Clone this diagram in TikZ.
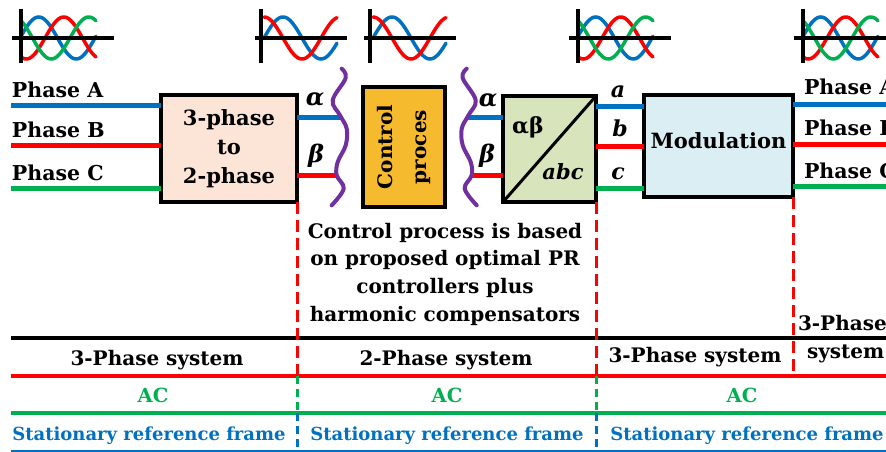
\documentclass[tikz,border=0pt]{standalone}
\usepackage{fontspec}
\setmainfont{DejaVu Serif}
\usetikzlibrary{calc}
\definecolor{cblue}{HTML}{0070C0}
\definecolor{cred}{HTML}{FF0000}
\definecolor{cgreen}{HTML}{00B050}
\definecolor{cpurple}{HTML}{7030A0}
\definecolor{cpeach}{HTML}{FCE4D6}
\definecolor{corange}{HTML}{F5BA2E}
\definecolor{cleaf}{HTML}{D8E4BC}
\definecolor{csky}{HTML}{DAEEF3}
\newcommand{\fs}[2]{\fontsize{#1}{#2}\selectfont}
\newcommand{\squigline}[2]{\draw[squig] plot[smooth,tension=0.6] coordinates {(#1,68.7) ({#1+(#2)*4},78) ({#1+(#2)*(-9)},100.3) ({#1+(#2)*(-1.7)},115.3) ({#1+(#2)*5},128.7) ({#1+(#2)*4},145.3) ({#1+(#2)*(-4)},162) ({#1+(#2)*(-5)},175.3) ({#1+(#2)*2},188.7) ({#1+(#2)*(-10)},205.3)};}
\tikzset{
  txt/.style={inner sep=0pt, outer sep=0pt},
  wire/.style={line width=5pt},
  blockbox/.style={draw=black, line width=4pt, inner sep=0pt, outer sep=0pt, align=center},
  axisline/.style={line width=4pt, black},
  waveline/.style={line width=3.5pt, line cap=round},
  squig/.style={line width=4pt, cpurple, line cap=round},
  reddash/.style={line width=3pt, cred, dash pattern=on 12pt off 6pt},
  greendash/.style={line width=3pt, cgreen, dash pattern=on 8pt off 5pt},
  bluedash/.style={line width=3pt, cblue, dash pattern=on 8pt off 5pt},
  hline/.style={line width=4pt},
  lbl/.style={txt, font=\bfseries\fs{20.5}{24}},
  greek/.style={txt, font=\bfseries\itshape\fs{24}{26}},
  latin/.style={txt, font=\bfseries\itshape\fs{22}{24}},
}
\begin{document}
\begin{tikzpicture}[x=1pt,y=-1pt]
\useasboundingbox (0,0) rectangle (886,452);
\clip (0,0) rectangle (886,452);

% ---- 3-phase wave icons
\foreach \ax in {21,578,803}{
  \draw[waveline,cblue] plot[domain=0:75,samples=60] ({\ax+\x},{38-21*sin(4.8*(\x+1))});
  \draw[waveline,cred] plot[domain=0:75,samples=60] ({\ax+\x},{38-21*sin(4.8*(\x+1)-120)});
  \draw[waveline,cgreen] plot[domain=0:75,samples=60] ({\ax+\x},{38-21*sin(4.8*(\x+1)-240)});
  \draw[axisline] (\ax-9,38) -- (\ax+93,38);
  \draw[axisline] (\ax,9) -- (\ax,63);
}
% ---- 2-phase wave icons
\foreach \ax in {261,370}{
  \draw[waveline,cblue] plot[domain=3:76,samples=60] ({\ax+\x},{38-21*sin(4.7368*(\x-3))});
  \draw[waveline,cred] plot[domain=3:76,samples=60] ({\ax+\x},{38-21*cos(4.7368*(\x-3))});
  \draw[axisline] (\ax-6,38) -- (\ax+86,38);
  \draw[axisline] (\ax,9) -- (\ax,63);
}

% ---- blocks
\node[blockbox, fill=cpeach, minimum width=136pt, minimum height=107pt, font=\bfseries\fs{21}{29}] (b1) at (229,148.5) {3-phase\\to\\2-phase};
\node[blockbox, fill=corange, minimum width=82pt, minimum height=120pt] (b2) at (404,147) {};
\node[txt, rotate=90, align=center, font=\bfseries\fs{20}{34}] (ctl) at (b2.center) {Control\\proces};
\node[blockbox, fill=cleaf, minimum width=93pt, minimum height=106pt] (b3) at (549.5,149) {};
\draw[line width=3pt] (b3.south west) -- (b3.north east);
\node[txt, font=\bfseries\fs{22}{24}] (ab) at (528,127) {αβ};
\node[txt, font=\bfseries\itshape\fs{21}{24}] (abc) at (563,172) {abc};
\node[blockbox, fill=csky, minimum width=149pt, minimum height=102pt] (b4) at (718.5,146) {};
\node[txt, font=\bfseries\fs{21}{24}] (modt) at (718.5,141) {Modulation};

% ---- input phases
\coordinate (inA) at (11,105);
\coordinate (inB) at (11,145);
\coordinate (inC) at (11,188);
\draw[wire,cblue] (inA) -- (inA -| b1.west);
\draw[wire,cred] (inB) -- (inB -| b1.west);
\draw[wire,cgreen] (inC) -- (inC -| b1.west);
\node[lbl, anchor=base west] (pA) at (12,97) {Phase A};
\node[lbl, anchor=base west] (pB) at (12,137) {Phase B};
\node[lbl, anchor=base west] (pC) at (12,180) {Phase C};

% ---- alpha beta
\coordinate (s1a) at (342,117);
\coordinate (s1b) at (337,175);
\coordinate (s2a) at (467,117);
\coordinate (s2b) at (471,175);
\draw[wire,cblue] (b1.east |- s1a) -- (s1a);
\draw[wire,cred] (b1.east |- s1b) -- (s1b);
\draw[wire,cblue] (s2a) -- (s2a -| b3.west);
\draw[wire,cred] (s2b) -- (s2b -| b3.west);
\squigline{341.7}{1}
\squigline{466.7}{-1}
\node[greek] (al1) at (315,100) {α};
\node[greek] (be1) at (316,156) {β};
\node[greek] (al2) at (488,101) {α};
\node[greek] (be2) at (487,156) {β};

% ---- abc
\coordinate (ya) at (0,106);
\coordinate (yb) at (0,146);
\coordinate (yc) at (0,188);
\draw[wire,cblue] (b3.east |- ya) -- (b4.west |- ya);
\draw[wire,cred] (b3.east |- yb) -- (b4.west |- yb);
\draw[wire,cgreen] (b3.east |- yc) -- (b4.west |- yc);
\node[latin, anchor=base] (la) at (618,97) {a};
\node[latin, anchor=base] (lb) at (620,136) {b};
\node[latin, anchor=base] (lc) at (618,179) {c};

% ---- outputs
\coordinate (oA) at (892,104);
\coordinate (oB) at (892,144);
\coordinate (oC) at (892,186);
\draw[wire,cblue] (b4.east |- oA) -- (oA);
\draw[wire,cred] (b4.east |- oB) -- (oB);
\draw[wire,cgreen] (b4.east |- oC) -- (oC);
\node[lbl, anchor=base west] (qA) at (804,95) {Phase A};
\node[lbl, anchor=base west] (qB) at (804,135) {Phase B};
\node[lbl, anchor=base west] (qC) at (804,178) {Phase C};

% ---- middle text
\node[txt, align=center, font=\bfseries\fs{20}{27.7}, anchor=north] (mid) at (445,223) {Control process is based\\on proposed optimal PR\\controllers plus\\harmonic compensators};

% ---- horizontal bands
\coordinate (hk) at (11,338);
\coordinate (hr) at (11,376);
\coordinate (hg) at (11,413);
\coordinate (hb) at (11,451);
\draw[hline,black] (hk) -- (hk -| oA);
\draw[hline,cred] (hr) -- (hr -| oA);
\draw[line width=3.5pt,cgreen] (hg) -- (hg -| oA);
\draw[line width=2pt,cblue] (hb) -- (hb -| oA);

% ---- dashed separators
\foreach \bx in {b1,b3}{
  \draw[reddash] (\bx.south east) -- (\bx.south east |- hr);
  \draw[greendash] (\bx.south east |- hr) -- (\bx.south east |- hg);
  \draw[bluedash] (\bx.south east |- hg) -- ([yshift=-6pt]\bx.south east |- hb);
}
\draw[reddash] (b4.south east) -- ([yshift=3pt]b4.south east |- hr);

% ---- band texts
\node[txt, anchor=base, font=\bfseries\fs{20}{24}] (t1) at (157,365) {3-Phase system};
\node[txt, anchor=base, font=\bfseries\fs{20}{24}] (t2) at (446,365) {2-Phase system};
\node[txt, anchor=base, font=\bfseries\fs{20}{24}] (t3) at (695,362) {3-Phase system};
\node[txt, anchor=base west, font=\bfseries\fs{20}{24}] (t4) at (798,330) {3-Phase};
\node[txt, anchor=base west, font=\bfseries\fs{20}{24}] (t5) at (807,358) {system};
\foreach \cx/\nm in {153/ac1,447/ac2,742/ac3}{
  \node[txt, anchor=base, text=cgreen, font=\bfseries\fs{19.5}{24}] (\nm) at (\cx,402) {AC};
}
\foreach \cx/\nm in {149/sr1,447/sr2,747/sr3}{
  \node[txt, anchor=base, text=cblue, font=\bfseries\fs{18}{24}] (\nm) at (\cx,440) {Stationary reference frame};
}
\end{tikzpicture}
\end{document}
